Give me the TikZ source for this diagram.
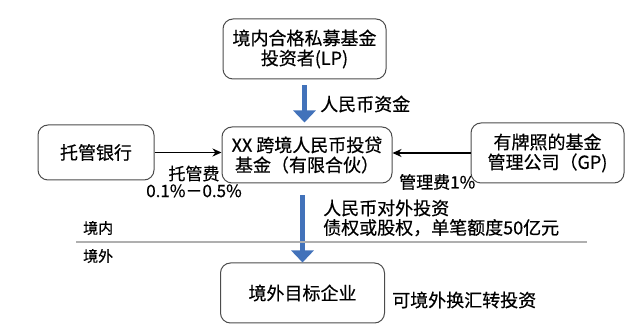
\documentclass[tikz,border=0pt]{standalone}
\usepackage{fontspec}
\newfontfamily\cjk[FakeBold=0.5]{Noto Sans CJK SC}
\usetikzlibrary{arrows.meta}
\definecolor{flowblue}{RGB}{66,114,186}
\definecolor{sepgray}{RGB}{175,175,175}

\begin{document}
\begin{tikzpicture}[x=1pt,y=-1pt,
    party/.style={draw=black!70,rounded corners=10pt,line width=1pt,align=center,
        inner sep=0pt,font=\cjk\fontsize{18}{20}\selectfont},
    lbl/.style={inner sep=0pt,align=left,font=\cjk\fontsize{18}{19.5}\selectfont},
    feelbl/.style={inner sep=0pt,align=center,font=\cjk\fontsize{17}{17}\selectfont},
    side/.style={inner sep=0pt,font=\cjk\fontsize{15}{15}\selectfont},
    fee/.style={black,line width=1.6pt,-{Stealth[length=9pt,width=8pt]}},
    flow/.style={flowblue,line width=5pt,-{Triangle[length=12pt,width=22pt]}}]
    \useasboundingbox (0,0) rectangle (640,336);

    \node[party,minimum width=163pt,minimum height=60pt] (lp) at (304.5,49)
        {境内合格私募基金\\投资者(LP)};
    \node[party,minimum width=170pt,minimum height=56pt] (fund) at (307,155)
        {XX 跨境人民币投贷\\基金（有限合伙）};
    \node[party,minimum width=116pt,minimum height=55pt] (bank) at (96,152.5)
        {托管银行};
    \node[party,minimum width=153pt,minimum height=60pt] (gp) at (547.5,153)
        {有牌照的基金\\管理公司（GP)};
    \node[party,minimum width=164pt,minimum height=60pt] (target) at (302.5,293)
        {境外目标企业};

    % money flows
    \draw[flow,shorten <=6pt,shorten >=4pt] (lp.south) -- (lp.south |- fund.north);
    \draw[flow,shorten <=12pt] (target.north |- fund.south) -- (target.north);
    \draw[fee] (bank.east) -- (bank.east -| fund.west);
    \draw[fee] (gp.west) -- (gp.west -| fund.east);

    \node[lbl,anchor=west] (rmb) at (320,104) {人民币资金};
    \node[feelbl] (bankfee) at (194,181.5) {托管费\\0.1\%－0.5\%};
    \node[feelbl,anchor=west] (gpfee) at (399,182) {管理费1\%};
    \node[lbl,anchor=west] (invest) at (323,218)
        {人民币对外投资\\债权或股权，单笔额度50亿元};
    \node[lbl,anchor=west] (swap) at (392,300) {可境外换汇转投资};

    % border line
    \coordinate (sepL) at (76,242);
    \coordinate (sepR) at (587,242);
    \draw[sepgray,line width=1.2pt] (sepL) -- (sepR);
    \node[side,anchor=west] (inland) at (83,228) {境内};
    \node[side,anchor=west] (abroad) at (83,256) {境外};
\end{tikzpicture}
\end{document}
